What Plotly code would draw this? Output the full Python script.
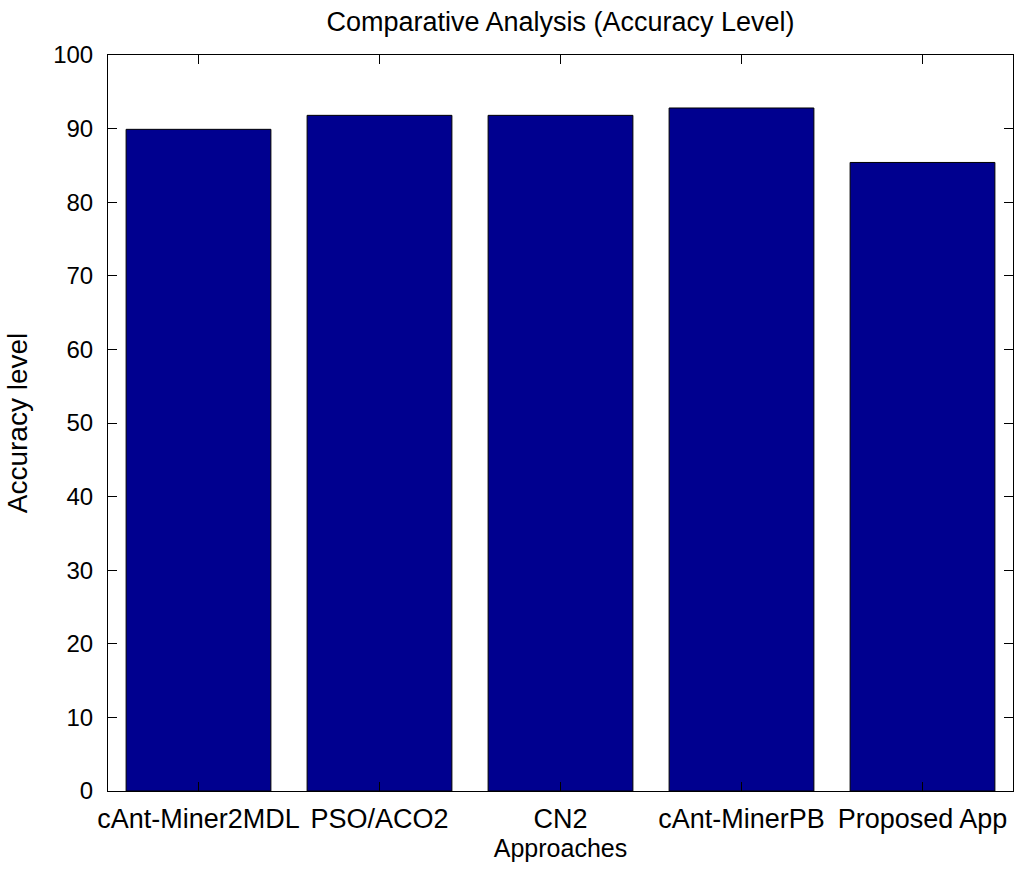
import plotly.graph_objects as go

# Accuracy of each rule-mining approach
approaches = ["cAnt-Miner2MDL", "PSO/ACO2", "CN2", "cAnt-MinerPB", "Proposed App"]
accuracy = [89.9, 91.8, 91.8, 92.8, 85.4]
y_ticks = [0, 10, 20, 30, 40, 50, 60, 70, 80, 90, 100]

positions = list(range(1, len(approaches) + 1))

font_family = "Liberation Sans, Arial, sans-serif"

fig = go.Figure(
    go.Bar(
        x=positions,
        y=accuracy,
        width=0.8,
        marker=dict(color="#00008F", line=dict(color="#000000", width=1)),
        hoverinfo="x+y",
    )
)

axis_common = dict(
    showline=True,
    linecolor="#000000",
    linewidth=1,
    mirror="ticks",
    ticks="inside",
    ticklen=9,
    tickcolor="#000000",
    showgrid=False,
    zeroline=False,
)

fig.update_layout(
    width=1023,
    height=869,
    margin=dict(l=108, r=10, t=55, b=78),
    paper_bgcolor="#FFFFFF",
    plot_bgcolor="#FFFFFF",
    showlegend=False,
    font=dict(family=font_family, size=25, color="#000000"),
    title=dict(
        text="Comparative Analysis (Accuracy Level)",
        x=0.5,
        xref="paper",
        xanchor="center",
        y=1 - 22 / 869,
        yanchor="middle",
        font=dict(family=font_family, size=27, color="#000000"),
    ),
    xaxis=dict(
        range=[0.5, 5.5],
        tickvals=positions,
        ticktext=approaches,
        ticklabelstandoff=4,
        tickfont=dict(family=font_family, size=27, color="#000000"),
        title=dict(text="Approaches", standoff=4,
                   font=dict(family=font_family, size=25, color="#000000")),
        automargin=False,
        **axis_common,
    ),
    yaxis=dict(
        range=[0, 100],
        tickvals=y_ticks,
        ticktext=[str(v) for v in y_ticks],
        ticklabelstandoff=9,
        tickfont=dict(family=font_family, size=24, color="#000000"),
        title=dict(text="Accuracy level", standoff=17,
                   font=dict(family=font_family, size=28, color="#000000")),
        automargin=False,
        **axis_common,
    ),
)

fig.write_html("out.html")
